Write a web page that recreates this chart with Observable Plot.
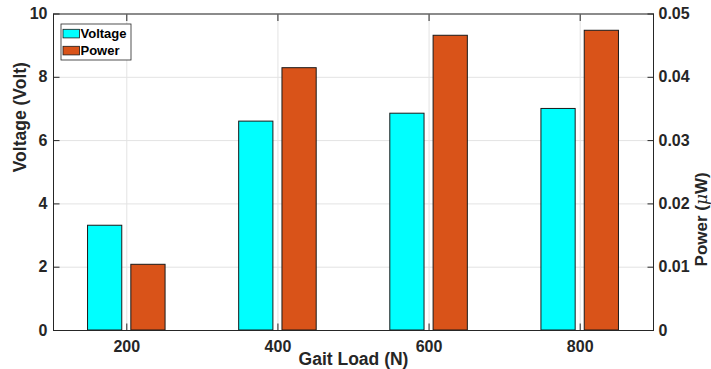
<!DOCTYPE html>
<html>
<head>
<meta charset="utf-8">
<script src="https://cdn.jsdelivr.net/npm/d3@7"></script>
<script src="https://cdn.jsdelivr.net/npm/@observablehq/plot@0.6"></script>
<style>
  html, body { margin: 0; padding: 0; background: #fff; }
  #chart { width: 711px; height: 369px; }
</style>
</head>
<body>
<div id="chart"></div>
<script>
// ---- data ----
const loads = [200, 400, 600, 800];                 // Gait Load (N)
const voltage = [3.31, 6.60, 6.85, 7.00];           // Volt
const power = [0.01038, 0.04144, 0.04656, 0.04735]; // µW
const voltageTicks = [0, 2, 4, 6, 8, 10];
const powerTickLabels = ["0", "0.01", "0.02", "0.03", "0.04", "0.05"];
const xTicks = [200, 400, 600, 800];
const seriesNames = ["Voltage", "Power"];
const seriesColors = ["#00ffff", "#d95319"];

const voltageMax = 10, powerMax = 0.05;
const voltageRows = loads.map((l, i) => ({load: l, v: voltage[i]}));
const powerRows = loads.map((l, i) => ({load: l, v: power[i] * voltageMax / powerMax}));

const ink = "#262626";
const gridColor = "#e3e3e3";
const font = "'Liberation Sans', Arial, Helvetica, sans-serif";
const tk = 6.5; // inward tick length

const chart = Plot.plot({
  width: 711,
  height: 369,
  marginLeft: 53,
  marginRight: 58,
  marginTop: 13.5,
  marginBottom: 39,
  style: {fontFamily: font, fontWeight: "bold", fontSize: "16px", color: ink, background: "#fff", overflow: "visible"},
  x: {type: "linear", domain: [103, 897]},
  y: {domain: [0, voltageMax]},
  marks: [
    Plot.gridX(xTicks, {stroke: gridColor, strokeOpacity: 1}),
    Plot.gridY(voltageTicks, {stroke: gridColor, strokeOpacity: 1}),
    Plot.rectY(voltageRows, {x1: d => d.load - 51.3, x2: d => d.load - 6, y1: 0, y2: "v", fill: seriesColors[0], stroke: "#1a1a1a", strokeWidth: 1}),
    Plot.rectY(powerRows, {x1: d => d.load + 6, x2: d => d.load + 51.3, y1: 0, y2: "v", fill: seriesColors[1], stroke: "#1a1a1a", strokeWidth: 1}),
    Plot.frame({stroke: ink}),
    Plot.axisX(xTicks, {anchor: "bottom", tickSize: tk, insetBottom: tk, tickPadding: 10, label: null, stroke: ink}),
    Plot.axisX(xTicks, {anchor: "top", tickSize: tk, insetTop: tk, tickFormat: () => "", label: null, stroke: ink}),
    Plot.axisY(voltageTicks, {anchor: "left", tickSize: tk, insetLeft: tk, tickPadding: 6, label: null, stroke: ink}),
    Plot.axisY(voltageTicks, {anchor: "right", tickSize: tk, insetRight: tk, tickPadding: 5, label: null, stroke: ink,
      tickFormat: d => powerTickLabels[voltageTicks.indexOf(d)]}),
    Plot.text(["Voltage (Volt)"], {text: d => d, frameAnchor: "left", dx: -33.3, rotate: -90, fontSize: 17.5, fontWeight: "bold", fill: ink}),
    Plot.text(["Gait Load (N)"], {text: d => d, frameAnchor: "bottom", dy: 29, lineAnchor: "middle", fontSize: 17.5, fontWeight: "bold", fill: ink}),
    Plot.text(["Power (μW)"], {text: d => d, frameAnchor: "right", dx: 48, rotate: -90, fontSize: 17, fontWeight: "bold", fill: ink})
  ]
});

document.getElementById("chart").appendChild(chart);

// italic mu in the right axis label
d3.select(chart).selectAll("text").each(function() {
  const t = d3.select(this);
  if (t.text() === "Power (μW)") {
    t.text(null);
    t.append("tspan").text("Power (");
    t.append("tspan").attr("font-style", "italic").attr("font-family", "'DejaVu Serif', serif").attr("font-weight", "normal").text("μ");
    t.append("tspan").text("W)");
  }
});

// legend (inside the axes, top-left)
const svg = d3.select(chart);
const lg = svg.append("g").attr("font-family", font).attr("font-weight", "bold").attr("font-size", 13).attr("text-anchor", "start");
lg.append("rect").attr("x", 61).attr("y", 24).attr("width", 70).attr("height", 36)
  .attr("fill", "#fff").attr("stroke", ink).attr("stroke-width", 0.8);
seriesNames.forEach((name, i) => {
  const y0 = 29.3 + i * 17;
  lg.append("rect").attr("x", 63).attr("y", y0).attr("width", 16.5).attr("height", 8.6)
    .attr("fill", seriesColors[i]).attr("stroke", "#1a1a1a").attr("stroke-width", 0.8);
  lg.append("text").attr("x", 80.5).attr("y", y0 + 9).attr("fill", "#000").attr("text-anchor", "start").text(name);
});
</script>
</body>
</html>
